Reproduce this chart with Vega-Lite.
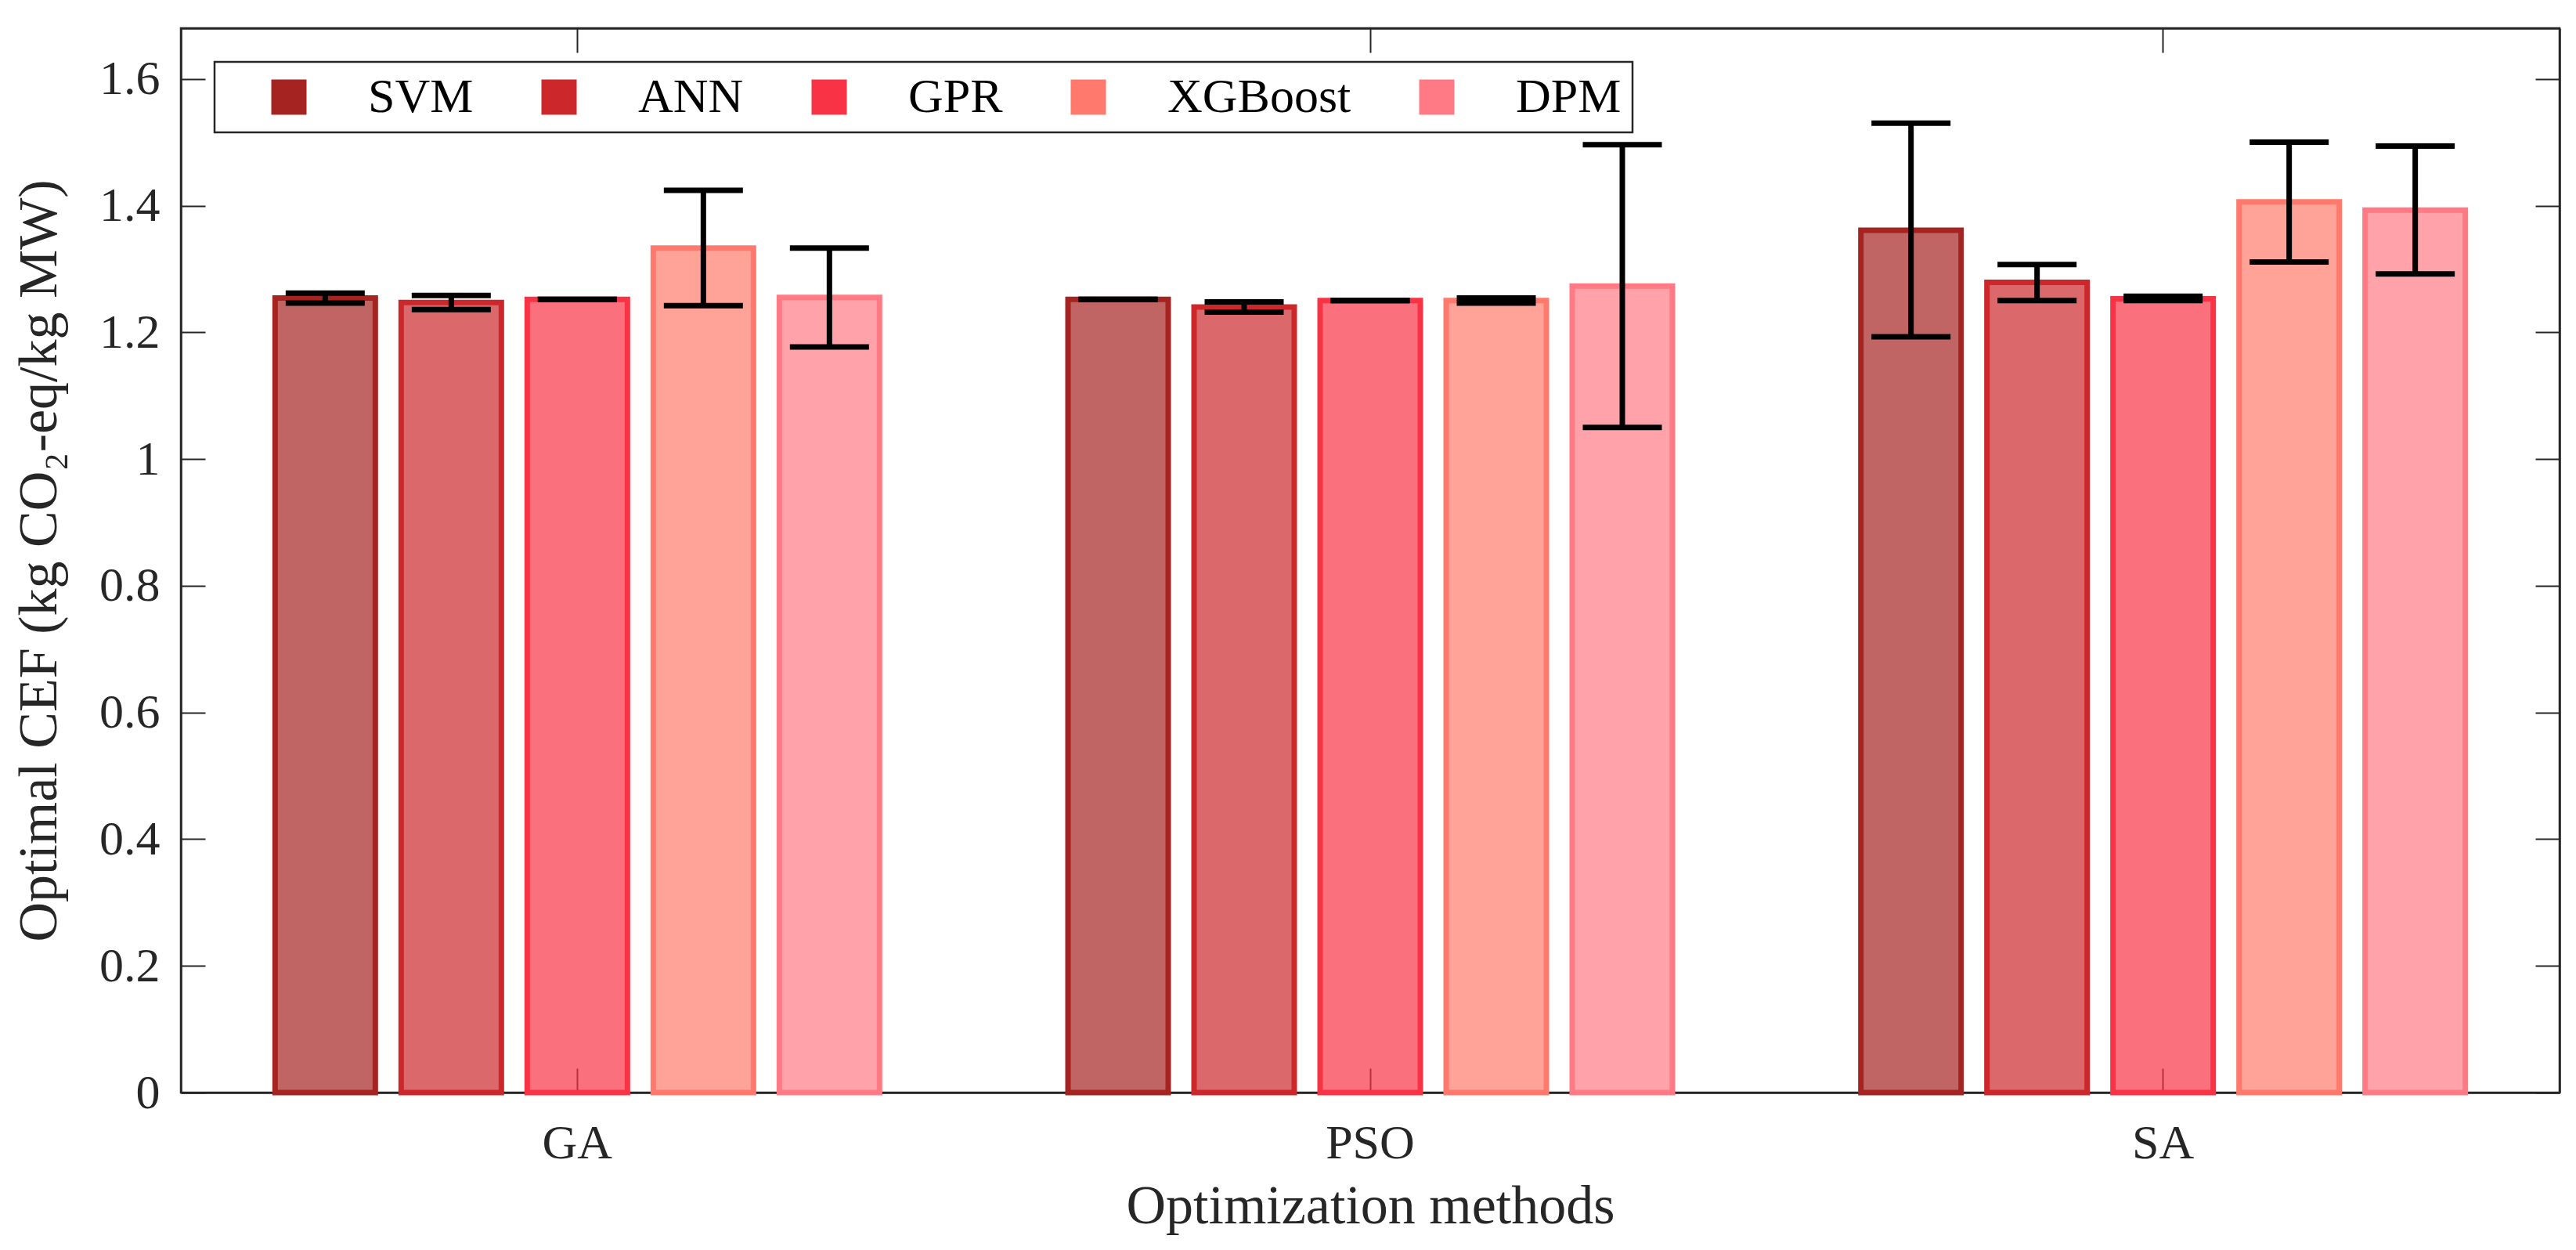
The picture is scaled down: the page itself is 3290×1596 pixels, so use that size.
{
  "$schema": "https://vega.github.io/schema/vega-lite/v6.json",
  "width": 3038,
  "height": 1359,
  "autosize": {"type": "none"},
  "padding": {"left": 231, "top": 36, "right": 21, "bottom": 201},
  "background": "white",
  "config": {
    "font": "Liberation Serif",
    "view": {"stroke": "#262626", "strokeWidth": 2.5},
    "axis": {
      "labelFont": "Liberation Serif",
      "titleFont": "Liberation Serif",
      "labelFontSize": 62,
      "titleFontSize": 70,
      "labelColor": "#262626",
      "titleColor": "#262626",
      "titleFontWeight": "normal",
      "domainColor": "#262626",
      "domainWidth": 2.5,
      "tickColor": "#262626",
      "tickWidth": 2,
      "tickSize": -31,
      "grid": false
    },
    "legend": {"labelFont": "Liberation Serif", "titleFont": "Liberation Serif"}
  },
  "data": {
    "values": [
      {"method": "GA", "model": "SVM", "mean": 1.254, "lo": 1.246, "hi": 1.262},
      {"method": "GA", "model": "ANN", "mean": 1.247, "lo": 1.236, "hi": 1.258},
      {"method": "GA", "model": "GPR", "mean": 1.252, "lo": 1.252, "hi": 1.252},
      {"method": "GA", "model": "XGBoost", "mean": 1.333, "lo": 1.242, "hi": 1.424},
      {"method": "GA", "model": "DPM", "mean": 1.255, "lo": 1.177, "hi": 1.333},
      {"method": "PSO", "model": "SVM", "mean": 1.252, "lo": 1.252, "hi": 1.252},
      {"method": "PSO", "model": "ANN", "mean": 1.240, "lo": 1.232, "hi": 1.248},
      {"method": "PSO", "model": "GPR", "mean": 1.250, "lo": 1.250, "hi": 1.250},
      {"method": "PSO", "model": "XGBoost", "mean": 1.250, "lo": 1.246, "hi": 1.254},
      {"method": "PSO", "model": "DPM", "mean": 1.273, "lo": 1.050, "hi": 1.496},
      {"method": "SA", "model": "SVM", "mean": 1.361, "lo": 1.193, "hi": 1.530},
      {"method": "SA", "model": "ANN", "mean": 1.279, "lo": 1.250, "hi": 1.307},
      {"method": "SA", "model": "GPR", "mean": 1.253, "lo": 1.250, "hi": 1.257},
      {"method": "SA", "model": "XGBoost", "mean": 1.406, "lo": 1.311, "hi": 1.500},
      {"method": "SA", "model": "DPM", "mean": 1.393, "lo": 1.292, "hi": 1.494}
    ]
  },
  "resolve": {"axis": {"x": "independent", "y": "independent"}},
  "layer": [
    {
      "mark": {"type": "bar", "fillOpacity": 0.7, "strokeWidth": 7, "strokeOpacity": 1},
      "encoding": {
        "x": {
          "field": "method", "type": "nominal", "sort": ["GA", "PSO", "SA"],
          "scale": {"paddingInner": 0, "paddingOuter": 0},
          "axis": {"title": "Optimization methods", "labelAngle": 0, "labelPadding": 65, "titlePadding": 16, "ticks": true, "labelFont": "Liberation Serif", "titleFont": "Liberation Serif"}
        },
        "xOffset": {
          "field": "model", "type": "nominal", "sort": ["SVM", "ANN", "GPR", "XGBoost", "DPM"],
          "scale": {"paddingInner": 0.205, "paddingOuter": 0.7475}
        },
        "y": {
          "field": "mean", "type": "quantitative",
          "scale": {"domain": [0, 1.68], "nice": false, "zero": true},
          "axis": {
            "title": "Optimal CEF (kg CO₂-eq/kg MW)",
            "values": [0, 0.2, 0.4, 0.6, 0.8, 1, 1.2, 1.4, 1.6],
            "format": "~g",
            "labelPadding": 58,
            "titlePadding": 40,
            "labelFont": "Liberation Serif",
            "titleFont": "Liberation Serif"
          }
        },
        "color": {
          "field": "model", "type": "nominal",
          "scale": {
            "domain": ["SVM", "ANN", "GPR", "XGBoost", "DPM"],
            "range": ["#A52421", "#CC282B", "#F93346", "#FF7A6C", "#FF7A84"]
          },
          "legend": {
            "orient": "top-left",
            "offset": 43,
            "direction": "horizontal",
            "title": " ",
            "titleOrient": "left",
            "titleFontSize": 62,
            "titlePadding": 50,
            "symbolType": "square",
            "symbolSize": 2025,
            "symbolStrokeWidth": 0,
            "symbolOpacity": 1,
            "labelFont": "Liberation Serif",
            "labelFontSize": 62,
            "labelColor": "#000000",
            "labelLimit": 600,
            "labelOffset": 70,
            "columnPadding": 78,
            "padding": 14,
            "strokeColor": "#262626",
            "fillColor": "white",
            "encode": {"legend": {"update": {"strokeWidth": {"value": 2.5}}}}
          }
        },
        "stroke": {
          "field": "model", "type": "nominal",
          "scale": {
            "domain": ["SVM", "ANN", "GPR", "XGBoost", "DPM"],
            "range": ["#A52421", "#CC282B", "#F93346", "#FF7A6C", "#FF7A84"]
          },
          "legend": null
        }
      }
    },
    {
      "mark": {"type": "rule", "color": "black", "strokeWidth": 7},
      "encoding": {
        "x": {
          "field": "method", "type": "nominal", "sort": ["GA", "PSO", "SA"],
          "axis": {"orient": "top", "labels": false, "title": null, "domain": true}
        },
        "xOffset": {"field": "model", "type": "nominal", "sort": ["SVM", "ANN", "GPR", "XGBoost", "DPM"]},
        "y": {
          "field": "lo", "type": "quantitative",
          "axis": {"orient": "right", "labels": false, "title": null, "values": [0, 0.2, 0.4, 0.6, 0.8, 1, 1.2, 1.4, 1.6]}
        },
        "y2": {"field": "hi"}
      }
    },
    {
      "mark": {"type": "tick", "color": "black", "thickness": 7, "size": 101, "orient": "horizontal", "opacity": 1},
      "encoding": {
        "x": {"field": "method", "type": "nominal", "sort": ["GA", "PSO", "SA"], "axis": null},
        "xOffset": {"field": "model", "type": "nominal", "sort": ["SVM", "ANN", "GPR", "XGBoost", "DPM"]},
        "y": {"field": "lo", "type": "quantitative", "axis": null}
      }
    },
    {
      "mark": {"type": "tick", "color": "black", "thickness": 7, "size": 101, "orient": "horizontal", "opacity": 1},
      "encoding": {
        "x": {"field": "method", "type": "nominal", "sort": ["GA", "PSO", "SA"], "axis": null},
        "xOffset": {"field": "model", "type": "nominal", "sort": ["SVM", "ANN", "GPR", "XGBoost", "DPM"]},
        "y": {"field": "hi", "type": "quantitative", "axis": null}
      }
    }
  ]
}
